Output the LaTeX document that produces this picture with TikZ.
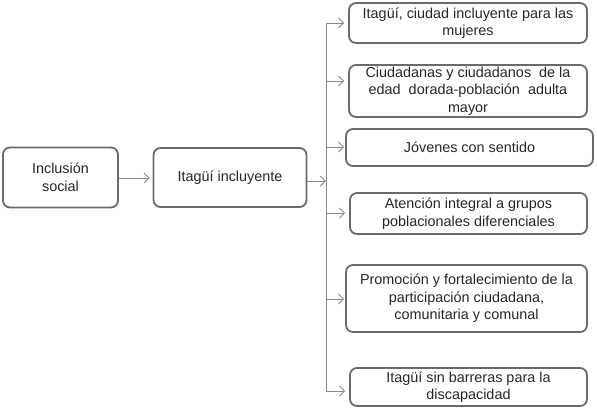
\documentclass[tikz,border=0pt]{standalone}
\usepackage{fontspec}
\setmainfont{Liberation Sans}
\usetikzlibrary{arrows.meta}
\definecolor{boxline}{HTML}{6A6A6A}
\definecolor{arrline}{HTML}{8A8A8A}
\begin{document}
\begin{tikzpicture}[x=1pt,y=-1pt,
  box/.style={draw=boxline,line width=1.8pt,rounded corners=7pt,align=center,
    inner sep=0pt,font=\fontsize{14.4}{17.5}\selectfont,text=black!85},
  conn/.style={draw=arrline,line width=0.9pt,-{Straight Barb[length=5pt,width=10pt,line width=0.9pt]}},
  spine/.style={draw=arrline,line width=0.9pt}]
\useasboundingbox (0,0) rectangle (597,418);
\node[box,minimum width=115pt,minimum height=60pt] (in1) at (60.5,177.5) {Inclusión\\social};
\node[box,minimum width=153pt,minimum height=59pt] (in2) at (230,177.5) {Itagüí incluyente};
\node[box,minimum width=238pt,minimum height=40pt] (A) at (468,23) {Itagüí, ciudad incluyente para las\\mujeres};
\node[box,minimum width=238pt,minimum height=52pt] (B) at (468,91) {Ciudadanas y ciudadanos\ \ de la\\edad\ \ dorada-población\ \ adulta\\mayor};
\node[box,minimum width=247pt,minimum height=37pt] (C) at (469.5,147.5) {Jóvenes con sentido};
\node[box,minimum width=237pt,minimum height=41pt] (D) at (468.5,213.5) {Atención integral a grupos\\poblacionales diferenciales};
\node[box,minimum width=241pt,minimum height=67pt] (E) at (466.5,298.5) {Promoción y fortalecimiento de la\\participación ciudadana,\\comunitaria y comunal};
\node[box,minimum width=237pt,minimum height=38pt] (F) at (468.5,387) {Itagüí sin barreras para la\\discapacidad};
\coordinate (stop) at (326,23);
\coordinate (sbot) at (326,391);
\draw[spine] (stop) -- (sbot);
\draw[conn] (in1.east |- 0,178) -- ([xshift=-3pt]in2.west |- 0,178);
\draw[conn] (in2.east |- 0,181) -- (stop |- 0,181);
\draw[conn] (stop) -- ([xshift=-4pt]A.west |- stop);
\draw[conn] (stop |- 0,81) -- ([xshift=-4pt]B.west |- 0,81);
\draw[conn] (stop |- 0,147) -- ([xshift=-1pt]C.west |- 0,147);
\draw[conn] (stop |- 0,213) -- ([xshift=-4pt]D.west |- 0,213);
\draw[conn] (stop |- 0,299) -- ([xshift=-1pt]E.west |- 0,299);
\draw[conn] (sbot) -- ([xshift=-4pt]F.west |- sbot);
\end{tikzpicture}
\end{document}
